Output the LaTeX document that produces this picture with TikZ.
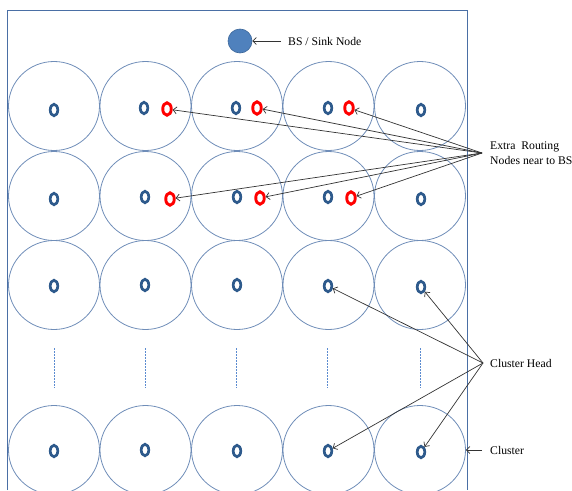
\documentclass[tikz,border=0pt]{standalone}
\usepackage{fontspec}
\setmainfont{Liberation Serif}
\usetikzlibrary{shapes.geometric,arrows.meta}
\definecolor{ringc}{HTML}{6F8DB8}
\definecolor{chc}{HTML}{2E5A8C}
\definecolor{bsfill}{HTML}{4F81BD}
\definecolor{bsdraw}{HTML}{3C679A}
\definecolor{framec}{HTML}{4A6FA5}
\definecolor{dashc}{HTML}{5B8BD0}
\begin{document}
\begin{tikzpicture}[x=1pt,y=-1pt,
  ring/.style={ellipse,draw=ringc,line width=0.8pt,minimum width=91pt,minimum height=89pt,inner sep=0pt},
  chn/.style={ellipse,draw=chc,line width=2.7pt,minimum width=7.5pt,minimum height=11.5pt,inner sep=0pt},
  rtn/.style={ellipse,draw=red,line width=2.9pt,minimum width=8.5pt,minimum height=12.5pt,inner sep=0pt},
  dashline/.style={draw=dashc,line width=0.7pt,dash pattern=on 2pt off 1pt},
  lbl/.style={inner sep=0pt,font=\fontsize{11.7}{15}\selectfont,align=left},
  arr/.style={-{Straight Barb[length=3.5pt,width=7pt]},line width=0.7pt,black!80}]
\useasboundingbox (0,0) rectangle (572,490);
\draw[framec,line width=0.8pt] (7,490) -- (7,10) -- (467,10) -- (467,490);
% cluster circles
\foreach \r/\y in {1/106,2/196,3/285,4/450}{
  \foreach \c/\x in {1/54,2/145.5,3/237,4/328.5,5/420}{
    \node[ring] (c\r\c) at (\x,\y) {};
  }
}
% dashed separators
\foreach \x in {54,145,236,327,420}{
  \draw[dashline] (\x,348) -- (\x,388);
}
% cluster heads
\node[chn] (m11) at (54,110) {};
\node[chn] (m12) at (144,108) {};
\node[chn] (m13) at (236,108) {};
\node[chn] (m14) at (328,108) {};
\node[chn] (m15) at (421,110) {};
\node[chn] (m21) at (54,199) {};
\node[chn] (m22) at (145,197) {};
\node[chn] (m23) at (237,197) {};
\node[chn] (m24) at (328,197) {};
\node[chn] (m25) at (421,199) {};
\node[chn] (m31) at (54,286) {};
\node[chn] (m32) at (145,285) {};
\node[chn] (m33) at (237,285) {};
\node[chn] (m34) at (328,286) {};
\node[chn] (m35) at (421,287) {};
\node[chn] (m41) at (54,451) {};
\node[chn] (m42) at (145,450) {};
\node[chn] (m43) at (237,451) {};
\node[chn] (m44) at (328,451) {};
\node[chn] (m45) at (421,452) {};
% extra routing nodes
\node[rtn] (r12) at (167,109) {};
\node[rtn] (r13) at (257,108) {};
\node[rtn] (r14) at (349,108) {};
\node[rtn] (r22) at (170,199) {};
\node[rtn] (r23) at (260,198) {};
\node[rtn] (r24) at (351,198) {};
% BS
\node[circle,fill=bsfill,draw=bsdraw,line width=0.6pt,minimum size=24pt,inner sep=0pt] (bs) at (240,41) {};
\node[lbl,anchor=west] (bsl) at (288,41) {BS / Sink Node};
\draw[arr,shorten <=7pt] (bsl.west) -- (bs);
% labels
\node[lbl,anchor=west] (erl) at (490,153) {Extra\ \ Routing\\Nodes near to BS};
\coordinate (er) at (482,153);
\foreach \t in {r12,r13,r14,r22,r23,r24}{\draw[arr] (er) -- (\t);}
\node[lbl,anchor=west] (chl) at (490,363) {Cluster Head};
\coordinate (chp) at (483,363);
\foreach \t in {m34,m35,m44,m45}{\draw[arr] (chp) -- (\t);}
\node[lbl,anchor=west] (cll) at (490,450) {Cluster};
\coordinate (clp) at (482,450);
\draw[arr] (clp) -- (c45.east);
\end{tikzpicture}
\end{document}
